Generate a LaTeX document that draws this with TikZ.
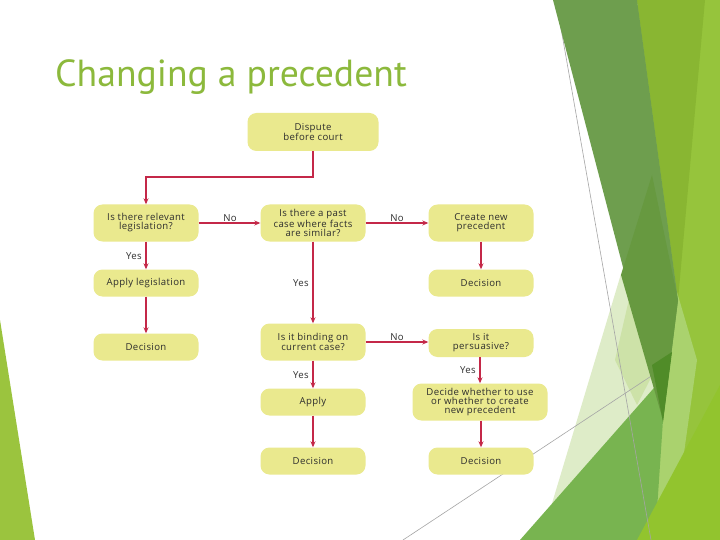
\documentclass[tikz,border=0pt]{standalone}
\usepackage{fontspec}
\setmainfont{Open Sans}[LetterSpace=4]
\newfontfamily\titlefont{PT Sans}
\usetikzlibrary{arrows.meta}
\definecolor{titlegreen}{RGB}{140,185,60}
\definecolor{boxfill}{RGB}{234,233,142}
\definecolor{arrowred}{RGB}{196,40,72}
\definecolor{txtgray}{RGB}{45,45,45}
\definecolor{lgreen}{RGB}{150,196,60}
\definecolor{mgreen}{RGB}{137,182,50}
\definecolor{dgreenA}{RGB}{110,158,78}
\definecolor{dgreenB}{RGB}{103,153,64}
\definecolor{dtip}{RGB}{80,140,40}
\definecolor{paleA}{RGB}{222,236,200}
\definecolor{paleB}{RGB}{205,226,168}
\definecolor{ggreen}{RGB}{120,180,80}
\definecolor{bgreen}{RGB}{146,196,46}
\definecolor{lstrip}{RGB}{170,210,110}
\definecolor{leftg}{RGB}{155,196,62}
\definecolor{linegray}{RGB}{165,165,165}
\begin{document}
\begin{tikzpicture}[x=1pt,y=-1pt,
  flowbox/.style={rounded corners=9pt, fill=boxfill, minimum width=105pt, minimum height=27pt,
    align=center, inner sep=1pt, text=txtgray, font=\fontsize{9.6}{9}\selectfont},
  tallbox/.style={flowbox, minimum height=37pt},
  arr/.style={draw=arrowred, line width=1.2pt, -{Stealth[length=6pt,width=5pt]}},
  lab/.style={inner sep=0pt, text=txtgray, font=\fontsize{9.6}{9}\selectfont},
  thinline/.style={draw=linegray, line width=0.6pt}]
\useasboundingbox (0,0) rectangle (720,540);
\fill[white] (0,0) rectangle (720,540);
% decorative background
\fill[leftg] (0,320) -- (35,540) -- (0,540) -- cycle;
\fill[lgreen] (637,0) -- (720,0) -- (720,540) -- (650,540) -- (663,420) -- cycle;
\fill[mgreen] (637,0) -- (705,0) -- (678,300) -- cycle;
\fill[lstrip] (677,292) -- (697,360) -- (683,460) -- (655,540) -- (650,540) -- (663,420) -- cycle;
\fill[paleA] (624,264) -- (672,330) -- (668,372) -- (560,540) -- (541,540) -- cycle;
\fill[paleB] (630,295) -- (655,370) -- (637,405) -- (615,360) -- cycle;
\fill[ggreen] (520,540) -- (668,372) -- (663,420) -- (655,540) -- cycle;
\fill[bgreen] (637,540) -- (720,385) -- (720,540) -- cycle;
\draw[thinline] (556,0) -- (651,540);
\draw[thinline] (403,540) -- (668,365);
\fill[dgreenA] (553,0) -- (637,0) -- (678,300) -- (663,420) -- cycle;
\fill[dgreenB] (652,175) -- (678,300) -- (663,420) -- (621,275) -- cycle;
\fill[dtip] (652,365) -- (672,352) -- (663,422) -- cycle;
% title
\node[anchor=base west, inner sep=0pt, text=titlegreen, font=\titlefont\fontsize{37.7}{40}\selectfont] (title) at (55,87) {Changing a precedent};
% nodes
\node[flowbox, minimum width=131pt, minimum height=38pt] (dispute) at (313,132) {Dispute\\before court};
\node[tallbox] (leg) at (146,223) {Is there relevant\\legislation?};
\node[tallbox] (past) at (313,223) {Is there a past\\case where facts\\are similar?};
\node[tallbox] (create) at (481,223) {Create new\\precedent};
\node[flowbox] (applyleg) at (146,283) {Apply legislation};
\node[flowbox] (dec1) at (481,283) {Decision};
\node[flowbox] (dec2) at (146,347) {Decision};
\node[tallbox] (binding) at (313,342) {Is it binding on\\current case?};
\node[flowbox, minimum height=28pt] (pers) at (481,343) {Is it\\persuasive?};
\node[flowbox] (apply) at (313,402) {Apply};
\node[tallbox, minimum width=135pt] (decide) at (480,402) {Decide whether to use\\or whether to create\\new precedent};
\node[flowbox] (dec3) at (313,461) {Decision};
\node[flowbox] (dec4) at (481,461) {Decision};
% connectors
\coordinate (bend) at (230,177);
\draw[arr] (dispute.south) |- (bend) -| (leg.north);
\draw[arr] (leg) -- (past);
\draw[arr] (past) -- (create);
\draw[arr] (create) -- (dec1);
\draw[arr] (leg) -- (applyleg);
\draw[arr] (applyleg) -- (dec2);
\draw[arr] (past) -- (binding);
\draw[arr] (binding.east) -- (binding.east -| pers.west);
\draw[arr] (binding) -- (apply);
\draw[arr] (apply) -- (dec3);
\draw[arr] (pers.south -| decide.north) -- (decide.north);
\draw[arr] (decide.south -| dec4.north) -- (dec4.north);
% labels
\node[lab] (l1) at (230,218) {No};
\node[lab] (l2) at (397,218) {No};
\node[lab] (l3) at (134,256) {Yes};
\node[lab] (l4) at (301,283) {Yes};
\node[lab] (l5) at (397,337) {No};
\node[lab] (l6) at (301,375) {Yes};
\node[lab] (l7) at (468,370) {Yes};
\end{tikzpicture}
\end{document}
